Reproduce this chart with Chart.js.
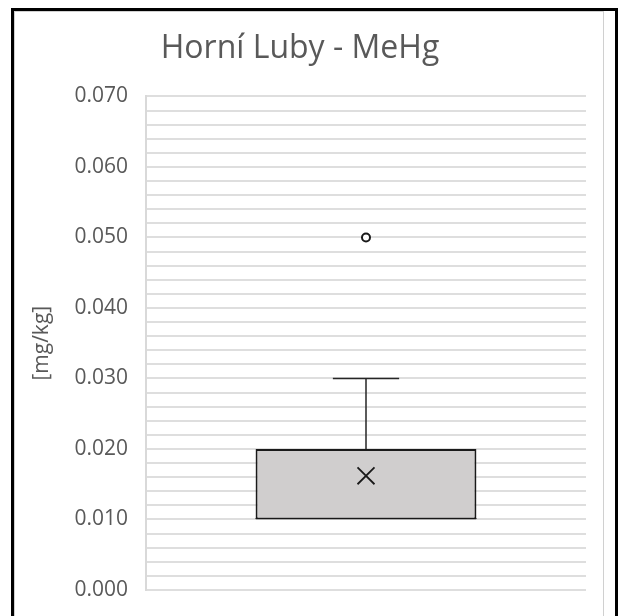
<!DOCTYPE html>
<html>
<head>
<meta charset="utf-8">
<script src="https://cdn.jsdelivr.net/npm/chart.js@4"></script>
<style>
  html, body { margin: 0; padding: 0; background: #fff; overflow: hidden; }
  #wrap { position: relative; width: 624px; height: 616px; }
  #frame { position: absolute; left: 11px; top: 8px; width: 601px; height: 640px; border: 3px solid #000; }
  #area { position: absolute; left: 14px; top: 11px; width: 588px; height: 640px; border: 1px solid #d0d0d0; }
  canvas { position: absolute; left: 0; top: 0; }
</style>
</head>
<body>
<div id="wrap">
  <div id="frame"></div>
  <div id="area"></div>
  <canvas id="c" width="624" height="616"></canvas>
</div>
<script>
const categories = ['Horní Luby'];
const q1Values = [0.010];
const q3Values = [0.020];
const medianValues = [0.010];
const whiskerLow = [0.010];
const whiskerHigh = [0.030];
const meanValues = [0.0162];
const outlierValues = [0.050];
const chartTitle = 'Horní Luby - MeHg';
const yAxisTitle = '[mg/kg]';
const yMin = 0, yMax = 0.07, yStep = 0.002, yLabelEvery = 0.010;

const boxPlugin = {
  id: 'whiskers',
  afterDatasetsDraw(chart) {
    const ctx = chart.ctx;
    const y = chart.scales.y;
    const meta = chart.getDatasetMeta(0);
    meta.data.forEach((bar, i) => {
      const cx = bar.x;
      const half = bar.width / 2;
      const capHalf = half * 0.3;
      ctx.save();
      ctx.strokeStyle = '#262626';
      ctx.lineWidth = 1.5;
      ctx.beginPath();
      ctx.moveTo(cx, y.getPixelForValue(q3Values[i]));
      ctx.lineTo(cx, y.getPixelForValue(whiskerHigh[i]));
      ctx.moveTo(cx - capHalf, y.getPixelForValue(whiskerHigh[i]));
      ctx.lineTo(cx + capHalf, y.getPixelForValue(whiskerHigh[i]));
      if (whiskerLow[i] < q1Values[i]) {
        ctx.moveTo(cx, y.getPixelForValue(q1Values[i]));
        ctx.lineTo(cx, y.getPixelForValue(whiskerLow[i]));
        ctx.moveTo(cx - capHalf, y.getPixelForValue(whiskerLow[i]));
        ctx.lineTo(cx + capHalf, y.getPixelForValue(whiskerLow[i]));
      }
      ctx.stroke();
      ctx.lineWidth = 1;
      ctx.strokeStyle = '#1a1a1a';
      ctx.beginPath();
      ctx.moveTo(cx - half, y.getPixelForValue(medianValues[i]) - 1);
      ctx.lineTo(cx + half, y.getPixelForValue(medianValues[i]) - 1);
      ctx.stroke();
      ctx.restore();
    });
  }
};

new Chart(document.getElementById('c'), {
  type: 'bar',
  data: {
    labels: categories,
    datasets: [
      {
        type: 'bar',
        data: q1Values.map((v, i) => [v, q3Values[i]]),
        backgroundColor: '#d0cece',
        borderColor: '#1a1a1a',
        borderWidth: 2,
        borderSkipped: false,
        categoryPercentage: 1,
        barPercentage: 0.502,
        order: 2
      },
      {
        type: 'line',
        data: meanValues,
        showLine: false,
        pointStyle: 'crossRot',
        pointRadius: 12,
        pointBorderWidth: 1.8,
        pointBorderColor: '#1a1a1a',
        order: 1
      },
      {
        type: 'line',
        data: outlierValues,
        showLine: false,
        pointStyle: 'circle',
        pointRadius: 4,
        pointBorderWidth: 2,
        pointBorderColor: '#1a1a1a',
        pointBackgroundColor: '#ffffff',
        order: 0
      }
    ]
  },
  options: {
    responsive: false,
    animation: false,
    events: [],
    layout: { padding: { left: 14, right: 38, top: 0, bottom: 26 } },
    plugins: {
      legend: { display: false },
      tooltip: { enabled: false },
      title: {
        display: true,
        text: chartTitle,
        color: '#595959',
        font: { family: 'Open Sans', size: 32, weight: 'normal', lineHeight: 1.2 },
        padding: { top: 30, bottom: 28 }
      }
    },
    scales: {
      x: { display: false },
      y: {
        min: yMin,
        max: yMax,
        afterFit(scale) { scale.width = 132; scale.paddingTop = 0; scale.paddingBottom = 0; },
        border: { display: true, color: '#d9d9d9', width: 2 },
        grid: { color: '#dedede', lineWidth: 2, drawTicks: false },
        ticks: {
          stepSize: yStep,
          autoSkip: false,
          padding: 18,
          color: '#595959',
          font: { family: 'Open Sans', size: 21 },
          callback(v) {
            const k = Math.round(v / yStep);
            const every = Math.round(yLabelEvery / yStep);
            return k % every === 0 ? (k * yStep).toFixed(3) : '';
          }
        },
        title: {
          display: true,
          text: yAxisTitle,
          color: '#595959',
          font: { family: 'Open Sans', size: 21 },
          padding: { top: 15, bottom: 0 }
        }
      }
    }
  },
  plugins: [boxPlugin]
});
</script>
</body>
</html>
